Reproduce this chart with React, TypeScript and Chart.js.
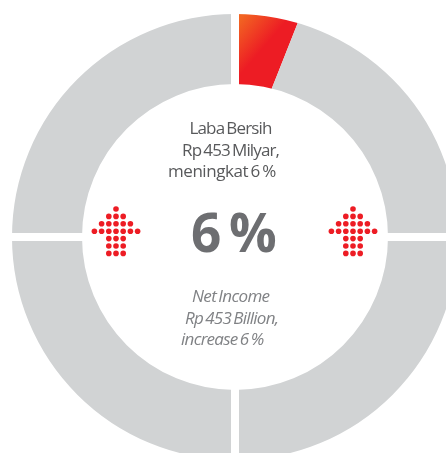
import React, { useEffect, useRef } from "react";
import { Chart, registerables } from "chart.js";

Chart.register(...registerables);

const segmentNames = ["Laba Bersih", "Sisa 1", "Sisa 2", "Sisa 3", "Sisa 4"];
const segmentValues = [6, 19, 25, 25, 25];
const GRAY = "#d1d3d4";

const idLabels = ["Laba Bersih", "Rp 453 Milyar,", "meningkat 6 %"];
const enLabels = ["Net Income", "Rp 453 Billion,", "increase 6 %"];
const bigLabel = "6 %";
const arrowRows = [1, 3, 5, 7, 3, 3, 3];

const CW = 470;
const CH = 474;

const ringPlugin = {
  id: "ringDetails",
  afterDatasetsDraw(chart: any) {
    const ctx = chart.ctx as CanvasRenderingContext2D;
    const arcs = chart.getDatasetMeta(0).data as any[];
    const red = arcs[0];
    const gray = arcs[1];
    const { x, y, outerRadius, innerRadius } = red;

    // the red wedge's far edge is cut on a line whose apex sits left of the centre
    const edge = red.endAngle;
    const apexX = x - 22;
    const far = outerRadius * 2;
    const start = gray.startAngle;
    ctx.save();
    ctx.beginPath();
    ctx.moveTo(apexX, y);
    ctx.lineTo(apexX + Math.cos(edge) * far, y + Math.sin(edge) * far);
    ctx.lineTo(x + far, y - far);
    ctx.lineTo(x + far, y);
    ctx.closePath();
    ctx.clip();
    ctx.fillStyle = "#ffffff";
    ctx.fillRect(0, 0, CW, CH);
    gray.startAngle = red.startAngle;
    gray.draw(ctx);
    gray.startAngle = start;
    ctx.restore();

    // parallel-sided white gaps on the quarter lines
    ctx.save();
    ctx.strokeStyle = "#ffffff";
    ctx.lineWidth = 8;
    for (const i of [0, 2, 3, 4]) {
      const a = arcs[i].startAngle;
      ctx.beginPath();
      ctx.moveTo(x + Math.cos(a) * (innerRadius - 2), y + Math.sin(a) * (innerRadius - 2));
      ctx.lineTo(x + Math.cos(a) * (outerRadius + 2), y + Math.sin(a) * (outerRadius + 2));
      ctx.stroke();
    }
    ctx.restore();

    // dotted arrows
    ctx.save();
    ctx.fillStyle = "#ed1c24";
    for (const cx of [x - 119, x + 118]) {
      arrowRows.forEach((count, r) => {
        for (let k = 0; k < count; k++) {
          ctx.beginPath();
          ctx.arc(cx + (k - (count - 1) / 2) * 7.2, y - 28 + r * 7.4, 2.8, 0, Math.PI * 2);
          ctx.fill();
        }
      });
    }
    ctx.restore();

    // texts
    const draw = (t: string, px: number, py: number, font: string, color: string, sp: string, ws: string) => {
      ctx.save();
      ctx.font = font;
      ctx.fillStyle = color;
      ctx.textAlign = "left";
      ctx.textBaseline = "alphabetic";
      (ctx as any).letterSpacing = sp;
      (ctx as any).wordSpacing = ws;
      ctx.fillText(t, px, py);
      ctx.restore();
    };
    const regular = '17px "Open Sans"';
    const italic = 'italic 17px "Open Sans"';
    draw(idLabels[0], 189.5, 134, regular, "#58595b", "-0.85px", "-1.5px");
    draw(idLabels[1], 182, 156, regular, "#58595b", "-0.85px", "-1.5px");
    draw(idLabels[2], 168, 177, regular, "#58595b", "-0.45px", "-1.5px");
    draw(bigLabel, 191, 252, 'bold 53px "Open Sans"', "#6d6e71", "0px", "-6px");
    draw(enLabels[0], 192, 302, italic, "#808285", "-0.65px", "-1.5px");
    draw(enLabels[1], 185, 324, italic, "#808285", "-0.75px", "-1.5px");
    draw(enLabels[2], 181, 345, italic, "#808285", "-0.72px", "-1.5px");
  },
};

export default function App() {
  const ref = useRef<HTMLCanvasElement>(null);
  useEffect(() => {
    const canvas = ref.current!;
    const ctx = canvas.getContext("2d")!;
    const grad = ctx.createLinearGradient(242, 16, 270, 40);
    grad.addColorStop(0, "#f26522");
    grad.addColorStop(1, "#ed1c24");
    const chart = new Chart(canvas, {
      type: "doughnut",
      data: {
        labels: segmentNames,
        datasets: [
          {
            data: segmentValues,
            backgroundColor: [grad, GRAY, GRAY, GRAY, GRAY],
            borderWidth: 0,
          },
        ],
      },
      options: {
        responsive: false,
        animation: false,
        cutout: 153,
        layout: { padding: { left: 12, right: 12, top: 14, bottom: 14 } },
        plugins: { legend: { display: false }, tooltip: { enabled: false } },
      },
      plugins: [ringPlugin],
    } as any);
    return () => chart.destroy();
  }, []);
  return (
    <div style={{ position: "fixed", left: 0, top: 0, width: 446, height: 453, overflow: "hidden", background: "#fff" }}>
      <canvas ref={ref} width={CW} height={CH} style={{ display: "block" }} />
    </div>
  );
}
